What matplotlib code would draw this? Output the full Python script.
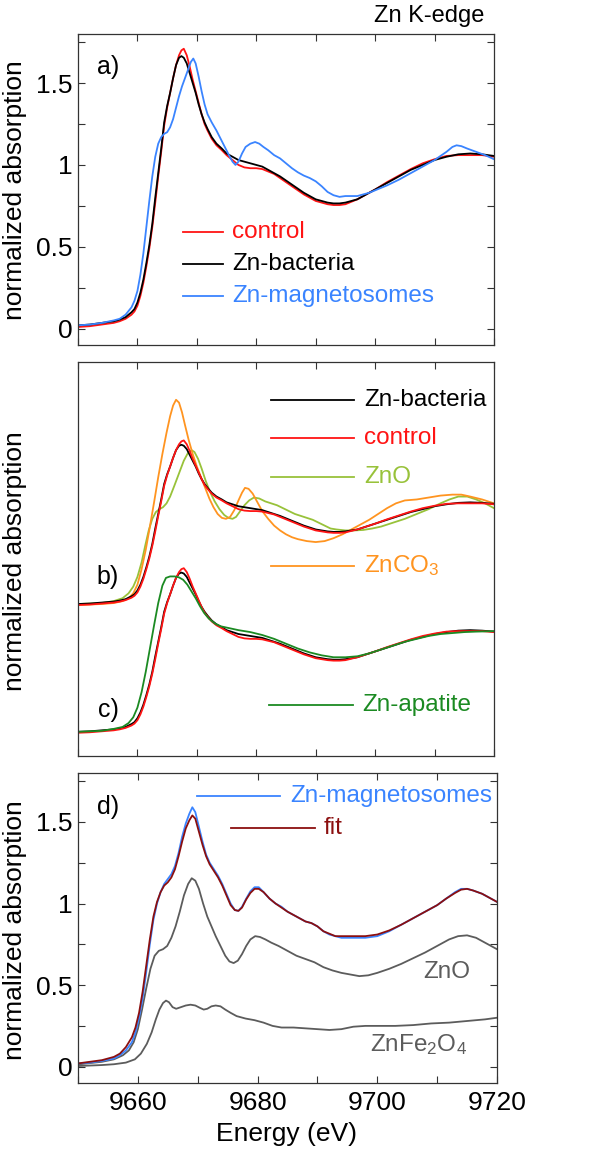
import numpy as np
import matplotlib
matplotlib.use('Agg')
from matplotlib import pyplot as plt
from matplotlib.ticker import MultipleLocator, FuncFormatter

plt.rcParams['font.family'] = ['Liberation Sans', 'DejaVu Sans']
plt.rcParams['mathtext.default'] = 'regular'

# ---- data (normalized absorption vs energy, eV) ----
# Zn-bacteria and control (used in a, b, c)
e_bact = [9650, 9652, 9654, 9656, 9657, 9658, 9659, 9659.5, 9660, 9660.5,
          9661, 9661.5, 9662, 9662.5, 9663, 9663.5, 9664, 9664.5, 9665, 9665.5,
          9666, 9666.5, 9667, 9667.4, 9667.8, 9668.3, 9668.8, 9669.3, 9669.8, 9670.3,
          9670.8, 9671.3, 9671.8, 9672.5, 9673.3, 9674.2, 9675, 9676, 9677, 9678,
          9679, 9680, 9681, 9682, 9683, 9684, 9685, 9686, 9687, 9688,
          9689, 9690, 9691, 9692, 9693, 9694, 9695, 9696, 9697, 9698,
          9699, 9700, 9702, 9704, 9706, 9708, 9710, 9712, 9714, 9716,
          9718, 9720]
mu_bact = [0.02, 0.025, 0.035, 0.045, 0.055, 0.07, 0.10, 0.12, 0.16, 0.22,
           0.30, 0.40, 0.51, 0.64, 0.80, 0.95, 1.10, 1.26, 1.36, 1.44,
           1.53, 1.61, 1.655, 1.665, 1.655, 1.62, 1.56, 1.50, 1.44, 1.37,
           1.31, 1.26, 1.22, 1.17, 1.13, 1.10, 1.07, 1.05, 1.03, 1.02,
           1.01, 1.00, 0.99, 0.97, 0.95, 0.93, 0.905, 0.88, 0.855, 0.83,
           0.81, 0.79, 0.78, 0.77, 0.765, 0.765, 0.77, 0.78, 0.79, 0.81,
           0.83, 0.85, 0.89, 0.93, 0.97, 1.00, 1.03, 1.05, 1.065, 1.07,
           1.065, 1.055]
mu_ctrl = [0.01, 0.015, 0.025, 0.035, 0.045, 0.06, 0.085, 0.105, 0.14, 0.20,
           0.28, 0.38, 0.49, 0.62, 0.77, 0.93, 1.08, 1.24, 1.35, 1.44,
           1.53, 1.61, 1.67, 1.70, 1.71, 1.67, 1.60, 1.52, 1.45, 1.38,
           1.31, 1.25, 1.21, 1.16, 1.12, 1.09, 1.06, 1.03, 1.00, 0.985,
           0.98, 0.98, 0.975, 0.96, 0.945, 0.92, 0.895, 0.87, 0.845, 0.82,
           0.80, 0.78, 0.77, 0.76, 0.755, 0.755, 0.76, 0.775, 0.79, 0.81,
           0.83, 0.85, 0.895, 0.935, 0.975, 1.01, 1.035, 1.055, 1.06, 1.06,
           1.06, 1.05]

# Zn-magnetosomes, panel a
e_mag_a = [9650, 9652, 9654, 9656, 9657, 9658, 9659, 9659.5, 9660, 9660.5,
           9661, 9661.5, 9662, 9662.5, 9663, 9663.5, 9664, 9664.5, 9665, 9665.5,
           9666, 9666.5, 9667, 9667.5, 9668, 9668.5, 9669, 9669.4, 9669.8, 9670.3,
           9670.8, 9671.3, 9671.8, 9672.5, 9673.3, 9674, 9674.7, 9675.4, 9676, 9676.5,
           9677, 9677.6, 9678.2, 9679, 9679.8, 9680.5, 9681.2, 9682, 9683, 9684,
           9685, 9686, 9687, 9688, 9689, 9690, 9691, 9692, 9693, 9694,
           9695, 9696, 9697, 9698, 9699, 9700, 9702, 9704, 9706, 9708,
           9710, 9711, 9712, 9713, 9713.7, 9714.5, 9715.5, 9717, 9718.5, 9720]
mu_mag_a = [0.02, 0.025, 0.035, 0.05, 0.06, 0.085, 0.13, 0.17, 0.23, 0.33,
            0.46, 0.62, 0.78, 0.93, 1.05, 1.13, 1.17, 1.19, 1.20, 1.23,
            1.28, 1.35, 1.42, 1.48, 1.53, 1.58, 1.63, 1.65, 1.62, 1.54,
            1.45, 1.37, 1.31, 1.26, 1.21, 1.16, 1.11, 1.06, 1.02, 1.00,
            1.02, 1.07, 1.11, 1.13, 1.14, 1.13, 1.11, 1.09, 1.06, 1.04,
            1.01, 0.98, 0.955, 0.935, 0.92, 0.90, 0.87, 0.835, 0.815, 0.805,
            0.81, 0.81, 0.81, 0.82, 0.83, 0.845, 0.875, 0.91, 0.95, 0.99,
            1.03, 1.055, 1.08, 1.11, 1.12, 1.115, 1.10, 1.08, 1.06, 1.035]

# references, panel b / c
e_zno = [9650, 9654, 9656, 9657.5, 9658.5, 9659.3, 9660, 9660.7, 9661.3, 9661.9,
         9662.5, 9663.1, 9663.7, 9664.3, 9664.9, 9665.5, 9666.2, 9667, 9667.8, 9668.5,
         9669.1, 9669.6, 9670.2, 9670.8, 9671.5, 9672.2, 9673, 9673.8, 9674.6, 9675.3,
         9676, 9676.6, 9677.3, 9678, 9678.8, 9679.6, 9680.5, 9681.5, 9682.5, 9683.5,
         9684.5, 9685.5, 9686.5, 9687.5, 9688.5, 9689.5, 9690.5, 9691.5, 9692.5, 9693.5,
         9695, 9696.5, 9698, 9699.5, 9701, 9703, 9705, 9707, 9709, 9711,
         9712.5, 9714, 9715.5, 9717, 9718.5, 9720]
mu_zno = [0.02, 0.03, 0.05, 0.08, 0.13, 0.20, 0.30, 0.45, 0.62, 0.78,
          0.90, 0.97, 1.00, 1.02, 1.06, 1.13, 1.24, 1.37, 1.50, 1.58,
          1.61, 1.59, 1.52, 1.42, 1.29, 1.18, 1.08, 1.00, 0.94, 0.91,
          0.90, 0.92, 0.98, 1.04, 1.09, 1.12, 1.11, 1.08, 1.06, 1.04,
          1.01, 0.98, 0.95, 0.93, 0.91, 0.89, 0.86, 0.83, 0.80, 0.79,
          0.78, 0.78, 0.785, 0.80, 0.82, 0.86, 0.90, 0.95, 1.00, 1.06,
          1.10, 1.13, 1.13, 1.10, 1.06, 1.01]

e_znco3 = [9650, 9654, 9656, 9657.5, 9658.5, 9659.3, 9660, 9660.7, 9661.4, 9662.1,
           9662.8, 9663.5, 9664.2, 9664.9, 9665.5, 9666, 9666.5, 9667, 9667.5, 9668,
           9668.6, 9669.3, 9670, 9670.7, 9671.4, 9672.1, 9672.8, 9673.5, 9674.2, 9674.9,
           9675.6, 9676.3, 9677, 9677.6, 9678.1, 9678.7, 9679.4, 9680.2, 9681, 9682,
           9683, 9684, 9685, 9686, 9687, 9688.5, 9690, 9691.5, 9693, 9694.5,
           9696, 9697.5, 9699, 9700.5, 9702, 9703.5, 9705, 9707, 9709, 9711,
           9713, 9714.5, 9716, 9718, 9720]
mu_znco3 = [0.01, 0.02, 0.03, 0.05, 0.08, 0.13, 0.22, 0.38, 0.58, 0.82,
            1.07, 1.33, 1.57, 1.79, 1.96, 2.07, 2.13, 2.10, 2.00, 1.87,
            1.72, 1.57, 1.44, 1.33, 1.22, 1.11, 1.02, 0.95, 0.91, 0.90,
            0.92, 0.99, 1.09, 1.17, 1.22, 1.21, 1.16, 1.07, 0.98, 0.90,
            0.83, 0.78, 0.74, 0.71, 0.69, 0.67, 0.66, 0.67, 0.70, 0.74,
            0.79, 0.84, 0.89, 0.95, 1.01, 1.06, 1.09, 1.10, 1.12, 1.14,
            1.15, 1.15, 1.13, 1.10, 1.06]

e_apat = [9650, 9654, 9656, 9657.5, 9658.5, 9659.3, 9660, 9660.7, 9661.4, 9662.1,
          9662.8, 9663.5, 9664.2, 9664.8, 9665.5, 9666.3, 9667, 9667.7, 9668.4, 9669.1,
          9669.8, 9670.5, 9671.2, 9672, 9673, 9674, 9675.5, 9677, 9679, 9681,
          9683, 9685, 9687, 9689, 9691, 9693, 9695, 9697, 9699, 9701,
          9703, 9705, 9707, 9709, 9711, 9713, 9715, 9717, 9720]
mu_apat = [0.02, 0.03, 0.05, 0.07, 0.11, 0.17, 0.27, 0.43, 0.64, 0.88,
           1.12, 1.35, 1.53, 1.61, 1.625, 1.625, 1.615, 1.59, 1.54, 1.47,
           1.40, 1.32, 1.25, 1.19, 1.14, 1.11, 1.09, 1.07, 1.05, 1.02,
           0.98, 0.93, 0.88, 0.84, 0.81, 0.79, 0.79, 0.80, 0.83, 0.87,
           0.91, 0.95, 0.98, 1.01, 1.03, 1.04, 1.05, 1.055, 1.06]

# panel d: Zn-magnetosomes, linear-combination fit and weighted components
e_d = [9650, 9652, 9654, 9656, 9657, 9658, 9659, 9659.6, 9660.2, 9660.8,
       9661.4, 9662, 9662.6, 9663.2, 9663.8, 9664.4, 9665, 9665.6, 9666.2, 9666.8,
       9667.4, 9668, 9668.6, 9669.1, 9669.6, 9670.2, 9670.8, 9671.4, 9672, 9672.7,
       9673.4, 9674.1, 9674.8, 9675.5, 9676.2, 9676.8, 9677.4, 9678.1, 9678.8, 9679.5,
       9680.2, 9681, 9682, 9683, 9684, 9685, 9686, 9687, 9688, 9689,
       9690, 9691, 9692, 9693, 9694, 9696, 9698, 9700, 9702, 9704,
       9706, 9708, 9710, 9711.5, 9713, 9714, 9715, 9716, 9717.5, 9719,
       9720]
mu_mag_d = [0.02, 0.025, 0.035, 0.05, 0.07, 0.10, 0.15, 0.21, 0.30, 0.42,
            0.58, 0.75, 0.90, 1.00, 1.07, 1.12, 1.15, 1.18, 1.23, 1.31,
            1.41, 1.49, 1.55, 1.59, 1.56, 1.47, 1.38, 1.30, 1.25, 1.21,
            1.17, 1.12, 1.06, 1.00, 0.96, 0.955, 0.98, 1.03, 1.075, 1.10,
            1.10, 1.07, 1.03, 1.00, 0.98, 0.95, 0.93, 0.91, 0.89, 0.88,
            0.86, 0.83, 0.81, 0.80, 0.79, 0.79, 0.79, 0.80, 0.83, 0.87,
            0.91, 0.95, 0.99, 1.03, 1.07, 1.09, 1.09, 1.08, 1.06, 1.03,
            1.01]
mu_fit_d = [0.02, 0.03, 0.04, 0.06, 0.08, 0.12, 0.18, 0.24, 0.33, 0.46,
            0.62, 0.78, 0.92, 1.01, 1.07, 1.11, 1.13, 1.16, 1.21, 1.29,
            1.38, 1.46, 1.51, 1.54, 1.52, 1.44, 1.36, 1.29, 1.24, 1.20,
            1.16, 1.11, 1.05, 0.99, 0.96, 0.955, 0.975, 1.025, 1.065, 1.09,
            1.09, 1.07, 1.03, 1.00, 0.975, 0.95, 0.93, 0.91, 0.89, 0.88,
            0.86, 0.83, 0.815, 0.80, 0.80, 0.80, 0.80, 0.81, 0.835, 0.87,
            0.91, 0.95, 0.99, 1.03, 1.065, 1.085, 1.09, 1.08, 1.06, 1.03,
            1.01]

e_zno_d = [9650, 9654, 9656, 9657.5, 9658.5, 9659.3, 9660, 9660.7, 9661.4, 9662.1,
           9662.8, 9663.5, 9664.2, 9664.9, 9665.6, 9666.3, 9667, 9667.7, 9668.4, 9669,
           9669.6, 9670.2, 9670.9, 9671.6, 9672.3, 9673, 9673.8, 9674.6, 9675.3, 9676,
           9676.7, 9677.4, 9678.1, 9678.8, 9679.6, 9680.4, 9681.3, 9682.3, 9683.5, 9685,
           9686.5, 9688, 9689.5, 9691, 9692.5, 9694, 9695.5, 9697, 9698.5, 9700,
           9702, 9704, 9706, 9708, 9710, 9712, 9713.5, 9715, 9716.5, 9718,
           9720]
mu_zno_d = [0.014, 0.03, 0.045, 0.07, 0.10, 0.15, 0.23, 0.35, 0.48, 0.60,
            0.68, 0.71, 0.72, 0.74, 0.79, 0.86, 0.95, 1.05, 1.12, 1.155,
            1.14, 1.09, 1.00, 0.92, 0.86, 0.80, 0.74, 0.68, 0.645, 0.635,
            0.65, 0.69, 0.74, 0.78, 0.80, 0.795, 0.78, 0.76, 0.74, 0.71,
            0.68, 0.66, 0.64, 0.61, 0.59, 0.575, 0.565, 0.555, 0.56, 0.575,
            0.60, 0.63, 0.665, 0.70, 0.74, 0.78, 0.80, 0.805, 0.79, 0.76,
            0.72]

e_znfe = [9650, 9654, 9656, 9658, 9659.5, 9660.5, 9661.5, 9662.3, 9663, 9663.6,
          9664.2, 9664.7, 9665.2, 9665.8, 9666.4, 9667.2, 9668, 9668.8, 9669.6, 9670.4,
          9671, 9671.6, 9672.3, 9673, 9673.8, 9674.6, 9675.5, 9676.5, 9678, 9679.5,
          9681, 9682.5, 9684, 9686, 9688, 9690, 9692, 9694, 9696, 9698,
          9700, 9703, 9706, 9709, 9712, 9715, 9718, 9720]
mu_znfe = [0.004, 0.01, 0.015, 0.025, 0.045, 0.08, 0.14, 0.21, 0.29, 0.35,
           0.39, 0.405, 0.395, 0.365, 0.355, 0.365, 0.375, 0.38, 0.375, 0.36,
           0.35, 0.355, 0.37, 0.375, 0.37, 0.35, 0.33, 0.31, 0.295, 0.285,
           0.27, 0.25, 0.24, 0.24, 0.235, 0.23, 0.225, 0.23, 0.245, 0.25,
           0.25, 0.25, 0.255, 0.265, 0.27, 0.28, 0.29, 0.30]

off_b = 1.32  # vertical offset of stack b)

# colours
c_red = '#ff1414'
c_blue = '#3a84ff'
c_zno = '#98c23a'
c_orange = '#ff9420'
c_green = '#1b8a22'
c_fit = '#8b0f0f'
c_grey = '#5c5c5c'

fig = plt.figure(figsize=(5.93, 11.51), dpi=100)
W, H = 593.0, 1151.0


def box(x0, y0, x1, y1):
    return [x0 / W, 1 - y1 / H, (x1 - x0) / W, (y1 - y0) / H]


ax_a = fig.add_axes(box(78, 34, 494, 345))
ax_b = fig.add_axes(box(78, 362, 494, 756))
ax_d = fig.add_axes(box(78, 773, 497, 1083))


def ylab(v, pos):
    if abs(v - round(v * 2) / 2) > 1e-6:
        return ''
    return '%g' % v


def xlab(v, pos):
    return '%d' % v if int(round(v)) % 20 == 0 else ''


for ax in (ax_a, ax_b, ax_d):
    ax.set_xlim(9650, 9720)
    ax.xaxis.set_major_locator(MultipleLocator(10))
    ax.tick_params(direction='in', top=True, right=True, length=5, width=0.8,
                   color='#333333', labelsize=19, pad=6)
    for s in ax.spines.values():
        s.set_linewidth(0.9)
        s.set_color('#333333')

for ax in (ax_a, ax_d):
    ax.set_ylim(-0.1, 1.8)
    ax.yaxis.set_major_locator(MultipleLocator(0.25))
    ax.yaxis.set_major_formatter(FuncFormatter(ylab))
    ax.tick_params(axis='y', pad=4)

ax_a.tick_params(axis='x', labelbottom=False)
ax_b.tick_params(axis='x', labelbottom=False)
ax_b.set_yticks([])
ax_b.set_ylim(-0.23, 3.84)
ax_d.xaxis.set_major_formatter(FuncFormatter(xlab))

lw = 1.3
# panel a
ax_a.plot(e_bact, mu_ctrl, color=c_red, lw=lw)
ax_a.plot(e_bact, mu_bact, color='black', lw=lw)
ax_a.plot(e_mag_a, mu_mag_a, color=c_blue, lw=lw)

# panel b / c
ax_b.plot(e_zno, np.array(mu_zno) + off_b, color=c_zno, lw=lw)
ax_b.plot(e_znco3, np.array(mu_znco3) + off_b, color=c_orange, lw=lw)
ax_b.plot(e_bact, np.array(mu_bact) + off_b, color='black', lw=lw)
ax_b.plot(e_bact, np.array(mu_ctrl) + off_b, color=c_red, lw=lw)
ax_b.plot(e_bact, mu_bact, color='black', lw=lw)
ax_b.plot(e_bact, mu_ctrl, color=c_red, lw=lw)
ax_b.plot(e_apat, mu_apat, color=c_green, lw=lw)

# panel d
ax_d.plot(e_zno_d, mu_zno_d, color=c_grey, lw=lw)
ax_d.plot(e_znfe, mu_znfe, color=c_grey, lw=lw)
ax_d.plot(e_d, mu_mag_d, color=c_blue, lw=lw)
ax_d.plot(e_d, mu_fit_d, color=c_fit, lw=lw)


def key(ax, x0, x1, xt, y, label, color, fs=17.5):
    ax.plot([x0, x1], [y, y], color=color, lw=1.3, transform=ax.transAxes, clip_on=False)
    ax.text(xt, y, label, color=color, fontsize=fs, va='center', ha='left',
            transform=ax.transAxes)


# pixel -> axes fraction
def fx(ax_l, ax_w, px):
    return (px - ax_l) / ax_w


key(ax_a, fx(78, 416, 183), fx(78, 416, 223), fx(78, 416, 232), (345 - 232) / 311, 'control', c_red)
key(ax_a, fx(78, 416, 183), fx(78, 416, 223), fx(78, 416, 232), (345 - 264) / 311, 'Zn-bacteria', 'black')
key(ax_a, fx(78, 416, 183), fx(78, 416, 223), fx(78, 416, 232), (345 - 296) / 311, 'Zn-magnetosomes', c_blue)

key(ax_b, fx(78, 416, 271), fx(78, 416, 354), fx(78, 416, 364), (756 - 400) / 394, 'Zn-bacteria', 'black')
key(ax_b, fx(78, 416, 271), fx(78, 416, 354), fx(78, 416, 364), (756 - 438) / 394, 'control', c_red)
key(ax_b, fx(78, 416, 271), fx(78, 416, 354), fx(78, 416, 364), (756 - 477) / 394, 'ZnO', c_zno)
key(ax_b, fx(78, 416, 271), fx(78, 416, 354), fx(78, 416, 364), (756 - 566) / 394, r'ZnCO$_3$', c_orange)
key(ax_b, fx(78, 416, 269), fx(78, 416, 353), fx(78, 416, 362), (756 - 705) / 394, 'Zn-apatite', c_green)

key(ax_d, fx(78, 419, 197), fx(78, 419, 280), fx(78, 419, 290), (1083 - 796) / 310, 'Zn-magnetosomes', c_blue)
key(ax_d, fx(78, 419, 231), fx(78, 419, 315), fx(78, 419, 324), (1083 - 828) / 310, 'fit', c_fit)

ax_d.text(fx(78, 419, 423), (1083 - 972) / 310, 'ZnO', color=c_grey, fontsize=17.5,
          va='center', ha='left', transform=ax_d.transAxes)
ax_d.text(fx(78, 419, 370), (1083 - 1045) / 310, r'ZnFe$_2$O$_4$', color=c_grey, fontsize=17.5,
          va='center', ha='left', transform=ax_d.transAxes)

# panel letters
ax_a.text(0.072, 0.894, 'a)', fontsize=18, ha='center', va='center', transform=ax_a.transAxes)
ax_b.text(0.072, 0.454, 'b)', fontsize=18, ha='center', va='center', transform=ax_b.transAxes)
ax_b.text(0.072, 0.117, 'c)', fontsize=18, ha='center', va='center', transform=ax_b.transAxes)
ax_d.text(0.072, 0.89, 'd)', fontsize=18, ha='center', va='center', transform=ax_d.transAxes)

# axis labels / title
for yc in (190, 561, 930):
    fig.text(15 / W, 1 - yc / H, 'normalized absorption', rotation=90, fontsize=19,
             ha='center', va='center')
fig.text(287 / W, 1 - 1134 / H, 'Energy (eV)', fontsize=19, ha='center', va='center')
fig.text(484 / W, 1 - 16 / H, 'Zn K-edge', fontsize=17, ha='right', va='center')

plt.savefig('out.png', dpi=100)
